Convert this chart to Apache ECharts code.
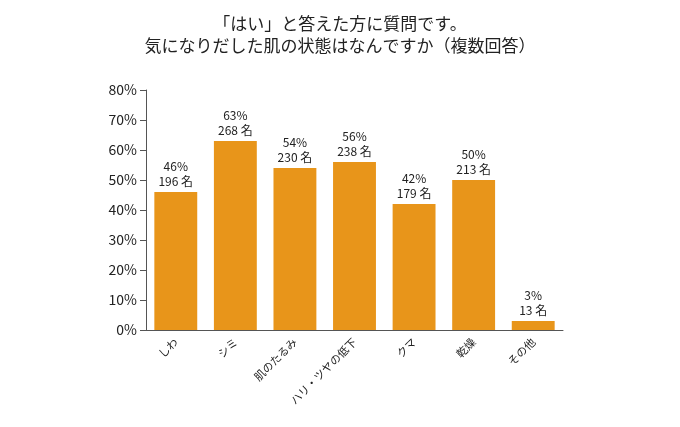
<!DOCTYPE html>
<html><head><meta charset="utf-8">
<script src="https://cdn.jsdelivr.net/npm/echarts@6/dist/echarts.min.js"></script>
<style>html,body{margin:0;background:#fff}#c{width:680px;height:427px}</style>
</head><body><div id="c"></div>
<script>
// data
var categories = ["しわ", "シミ", "肌のたるみ", "ハリ・ツヤの低下", "クマ", "乾燥", "その他"];
var percents = [46, 63, 54, 56, 42, 50, 3];
var counts = [196, 268, 230, 238, 179, 213, 13];
var yTicks = [0, 10, 20, 30, 40, 50, 60, 70, 80];

var font = "'Noto Sans CJK JP', sans-serif";
var chart = echarts.init(document.getElementById("c"));
chart.setOption({
  animation: false,
  title: {
    text: "「はい」と答えた方に質問です。\n気になりだした肌の状態はなんですか（複数回答）",
    left: "center", top: 8,
    textStyle: {fontFamily: font, fontSize: 17, fontWeight: "normal", color: "#222", lineHeight: 22}
  },
  grid: {left: 146, right: 117, top: 90, bottom: 97},
  xAxis: {
    type: "category", data: categories,
    axisLine: {lineStyle: {color: "#555"}},
    axisTick: {inside: true, length: 5, lineStyle: {color: "#555"}},
    axisLabel: {rotate: 45, fontFamily: font, fontSize: 11, color: "#222", margin: 10, interval: 0}
  },
  yAxis: {
    type: "value", min: yTicks[0], max: yTicks[yTicks.length - 1], interval: 10,
    splitLine: {show: false},
    axisLine: {show: true, lineStyle: {color: "#555"}},
    axisTick: {show: true, length: 6, lineStyle: {color: "#555"}},
    axisLabel: {formatter: "{value}%", fontFamily: font, fontSize: 14, color: "#222", margin: 9}
  },
  series: [{
    type: "bar", barWidth: "72%",
    data: percents,
    itemStyle: {color: "#E8951A"},
    label: {
      show: true, position: "top", distance: 3,
      fontFamily: font, fontSize: 12, color: "#222", lineHeight: 15,
      formatter: function (p) { return percents[p.dataIndex] + "%\n" + counts[p.dataIndex] + " 名"; }
    }
  }]
});
</script></body></html>
